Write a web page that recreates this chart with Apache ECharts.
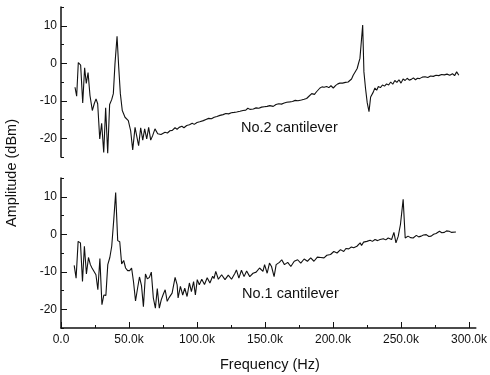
<!DOCTYPE html>
<html>
<head>
<meta charset="utf-8">
<script src="https://cdn.jsdelivr.net/npm/echarts@6/dist/echarts.min.js"></script>
<style>
    html, body {margin: 0; padding: 0; background: #fff;}
    #chart {width: 490px; height: 375px;}
</style>
</head>
<body>
<div id="chart"></div>
<script>
// frequency in kHz, amplitude in dBm
const cantilever2 = [
    [10.2,-6.4],[11.4,-8.8],[12.6,0.2],[14.3,-0.5],[15.8,-10.6],[17.2,-1.2],[18.4,-5.4],[19.7,-2.5],
    [21.1,-8.6],[22.8,-12.6],[24.2,-10.8],[25.5,-9.5],[26.7,-10.8],[28.2,-20.2],[29.6,-16.0],[31.1,-23.8],
    [32.5,-11.9],[34.0,-24.0],[35.4,-11.0],[36.9,-9.7],[38.1,-8.1],[39.3,-0.1],[40.8,7.2],[42.0,-1.0],
    [43.2,-8.1],[44.6,-12.6],[46.6,-14.4],[49.0,-15.3],[50.7,-18.0],[52.2,-23.1],[53.9,-17.1],[55.1,-16.6],
    [56.5,-22.0],[58.0,-17.2],[59.5,-20.5],[60.9,-17.5],[62.4,-20.2],[63.8,-17.1],[65.3,-20.5],[66.7,-19.3],
    [68.4,-17.5],[70.4,-18.8],[72.8,-19.0],[75.7,-18.4],[77.5,-18.6],[79.3,-18.0],[81.0,-17.9],[83.0,-17.2],
    [84.5,-17.6],[86.0,-17.1],[88.0,-16.8],[89.5,-17.2],[91.5,-16.6],[93.5,-16.4],[95.5,-16.0],[97.0,-16.3],
    [99.0,-15.8],[101.0,-15.6],[103.6,-15.3],[105.5,-15.0],[107.5,-14.7],[109.5,-14.8],[111.5,-14.4],[113.5,-14.2],
    [115.7,-13.9],[118.0,-13.7],[120.0,-13.4],[122.0,-13.5],[124.0,-13.2],[126.0,-13.1],[127.9,-13.0],[130.3,-12.8],
    [132.5,-12.6],[134.5,-12.5],[136.0,-12.0],[137.5,-12.3],[140.0,-12.2],[142.0,-11.9],[144.0,-12.0],[146.0,-11.7],
    [148.0,-11.6],[150.0,-11.5],[152.0,-11.3],[154.5,-11.5],[156.5,-11.0],[158.5,-10.8],[160.5,-10.9],[162.5,-10.6],
    [164.3,-10.4],[166.5,-10.3],[168.5,-10.2],[170.5,-9.9],[172.5,-10.0],[175.0,-9.8],[177.0,-9.6],[178.8,-9.4],
    [180.5,-8.8],[182.5,-8.1],[184.5,-8.3],[186.0,-7.6],[187.3,-7.2],[188.5,-6.6],[190.0,-6.3],[191.5,-6.4],
    [193.4,-6.2],[195.0,-6.5],[196.5,-6.0],[198.2,-6.6],[200.0,-5.9],[201.5,-5.5],[203.0,-5.3],[205.0,-5.3],
    [207.0,-5.1],[209.0,-5.0],[210.3,-4.7],[211.5,-4.2],[212.7,-3.2],[214.0,-2.4],[215.6,-1.4],[216.6,0.0],
    [217.6,1.3],[218.8,6.6],[219.6,10.2],[220.5,-2.3],[221.7,-6.8],[222.9,-10.5],[224.2,-12.9],[225.4,-9.0],
    [227.3,-7.7],[228.5,-6.6],[229.8,-7.2],[231.0,-6.2],[232.5,-6.5],[234.0,-5.8],[235.5,-6.1],[237.0,-5.5],
    [238.5,-5.8],[240.0,-5.0],[241.5,-5.6],[243.0,-4.6],[244.5,-5.1],[246.0,-4.4],[247.5,-5.3],[249.0,-4.2],
    [250.5,-4.6],[252.0,-4.0],[253.5,-4.5],[255.0,-4.3],[256.5,-3.9],[258.0,-4.4],[259.5,-4.0],[261.0,-4.1],
    [263.0,-3.7],[265.0,-3.6],[267.0,-3.8],[269.0,-3.4],[271.0,-3.5],[273.0,-3.2],[275.0,-3.3],[277.0,-3.0],
    [279.0,-3.1],[281.0,-2.9],[283.0,-3.2],[285.0,-2.8],[286.5,-3.3],[288.0,-2.3],[289.6,-3.2]
];

const cantilever1 = [
    [9.7,-8.3],[11.1,-11.7],[12.6,-1.9],[14.3,-2.3],[15.8,-12.6],[17.2,-3.2],[18.7,-10.6],[20.2,-6.2],
    [21.6,-8.1],[22.8,-9.0],[24.2,-8.6],[25.7,-10.8],[27.1,-14.8],[28.6,-6.5],[30.1,-18.8],[31.5,-16.2],
    [33.0,-16.3],[34.4,-8.1],[35.9,-6.2],[37.3,-3.2],[38.8,3.9],[40.2,11.1],[41.7,-1.7],[43.2,-2.0],
    [44.6,-7.9],[46.1,-7.0],[47.5,-9.0],[49.0,-9.7],[50.5,-9.7],[51.9,-9.0],[53.3,-12.6],[54.8,-17.8],
    [56.3,-14.4],[57.7,-11.4],[59.2,-13.7],[60.6,-19.3],[62.1,-10.6],[63.5,-11.9],[65.0,-11.5],[66.4,-10.1],
    [67.9,-17.0],[69.4,-19.7],[70.8,-14.5],[72.3,-19.7],[73.7,-17.5],[75.2,-16.0],[76.6,-14.8],[78.1,-17.9],
    [79.5,-16.9],[81.7,-15.7],[83.9,-11.5],[85.4,-13.5],[86.1,-17.0],[87.8,-13.9],[89.5,-16.2],[91.0,-14.4],
    [92.7,-16.6],[94.4,-13.0],[95.9,-15.3],[97.5,-12.6],[98.8,-16.2],[100.2,-12.1],[101.7,-13.5],[103.5,-12.0],
    [105.5,-13.4],[107.5,-11.6],[109.5,-13.0],[111.5,-11.2],[112.5,-11.8],[113.8,-9.9],[115.7,-12.0],[118.1,-10.8],
    [120.6,-12.1],[123.0,-10.9],[125.4,-12.0],[127.9,-10.4],[129.0,-9.5],[130.8,-11.7],[132.7,-9.6],[134.6,-11.3],
    [136.5,-9.8],[138.8,-11.3],[141.2,-10.4],[143.5,-10.1],[146.0,-9.0],[148.5,-9.9],[149.7,-8.1],[151.6,-10.4],
    [153.3,-7.7],[154.8,-8.6],[156.7,-11.3],[158.2,-8.1],[160.6,-7.5],[162.3,-6.8],[164.3,-8.1],[166.7,-7.5],
    [169.0,-8.6],[171.5,-7.2],[174.0,-6.8],[176.3,-7.7],[178.8,-6.6],[181.2,-7.2],[183.6,-6.3],[186.0,-7.2],
    [188.5,-6.1],[191.0,-6.2],[193.4,-6.3],[195.5,-5.6],[198.2,-5.4],[200.6,-4.6],[203.0,-5.0],[205.5,-4.1],
    [207.9,-4.6],[209.5,-3.8],[211.6,-3.9],[213.5,-3.4],[215.2,-3.6],[217.6,-3.2],[220.0,-2.3],[221.0,-3.0],
    [222.5,-2.1],[224.9,-1.9],[227.3,-1.6],[229.0,-1.9],[230.9,-1.4],[232.8,-1.7],[234.6,-1.4],[237.0,-1.2],
    [238.8,-1.5],[240.6,-1.0],[243.1,-1.4],[244.8,0.5],[246.3,-2.3],[248.0,-0.5],[249.6,2.6],[251.6,9.3],
    [253.1,-1.0],[255.2,-0.5],[257.0,-0.9],[258.9,-1.0],[261.3,-0.3],[263.0,-0.7],[264.9,-0.5],[266.5,-0.2],
    [268.6,-0.1],[270.5,-0.6],[272.2,-0.5],[274.0,0.0],[275.8,0.2],[277.0,0.4],[278.3,0.8],[280.0,0.4],
    [281.9,0.5],[283.5,0.9],[285.5,0.8],[287.0,0.5],[288.0,0.4],[290.4,0.6]
];

const xMajorTicks = [0, 50, 100, 150, 200, 250, 300];
const xMinorTicks = [25, 75, 125, 175, 225, 275];
const yMajorTicks = [-20, -10, 0, 10];
const yMinorTicks = [-25, -15, -5, 5, 15];

const font = 'Liberation Sans, Arial, sans-serif';
const ink = '#111';

let myChart = echarts.init(document.getElementById('chart'));

function xAxisFor(gridIndex, visible, minor) {
    return {
        type: 'value',
        gridIndex,
        position: 'bottom',
        min: 0,
        max: 305,
        axisLine: {show: visible && !minor, onZero: false, lineStyle: {color: ink, width: 1.5}},
        axisTick: {
            show: visible,
            inside: true,
            length: minor ? 3 : 6,
            customValues: minor ? xMinorTicks : xMajorTicks,
            lineStyle: {color: ink, width: 1}
        },
        axisLabel: {
            show: visible && !minor,
            customValues: xMajorTicks,
            margin: 6,
            fontSize: 12,
            fontFamily: font,
            color: ink,
            formatter(val) {
                return val === 0 ? '0.0' : val.toFixed(1) + 'k';
            }
        },
        splitLine: {show: false}
    };
}

function yAxisFor(gridIndex, minor) {
    return {
        type: 'value',
        gridIndex,
        position: 'left',
        min: -25,
        max: 15,
        axisLine: {show: !minor, onZero: false, lineStyle: {color: ink, width: 1.5}},
        axisTick: {
            inside: true,
            length: minor ? 3 : 6,
            customValues: minor ? yMinorTicks : yMajorTicks,
            lineStyle: {color: ink, width: 1}
        },
        axisLabel: {
            show: !minor,
            customValues: yMajorTicks,
            margin: 4,
            fontSize: 12,
            fontFamily: font,
            color: ink
        },
        splitLine: {show: false}
    };
}

let lineStyle = {color: ink, width: 1.1};

let option = {
    animation: false,
    backgroundColor: '#fff',
    grid: [
        {left: 61, right: 10, top: 7, height: 150},
        {left: 61, right: 10, top: 178, height: 150}
    ],
    xAxis: [
        xAxisFor(0, false, false),
        xAxisFor(1, true, false),
        xAxisFor(1, true, true)
    ],
    yAxis: [
        yAxisFor(0, false),
        yAxisFor(0, true),
        yAxisFor(1, false),
        yAxisFor(1, true)
    ],
    series: [
        {
            name: 'No.2 cantilever',
            type: 'line',
            xAxisIndex: 0,
            yAxisIndex: 0,
            data: cantilever2,
            showSymbol: false,
            lineStyle
        },
        {
            name: 'No.1 cantilever',
            type: 'line',
            xAxisIndex: 1,
            yAxisIndex: 2,
            data: cantilever1,
            showSymbol: false,
            lineStyle
        }
    ],
    graphic: [
        {
            type: 'text',
            left: 241,
            top: 120,
            style: {text: 'No.2 cantilever', fontSize: 14.5, fontFamily: font, fill: ink}
        },
        {
            type: 'text',
            left: 242,
            top: 286,
            style: {text: 'No.1 cantilever', fontSize: 14.5, fontFamily: font, fill: ink}
        },
        {
            type: 'text',
            x: 220,
            y: 357,
            style: {text: 'Frequency (Hz)', fontSize: 14.5, fontFamily: font, fill: ink}
        },
        {
            type: 'text',
            x: 4,
            y: 227,
            rotation: Math.PI / 2,
            style: {text: 'Amplitude (dBm)', fontSize: 14.5, fontFamily: font, fill: ink}
        }
    ]
};

myChart.setOption(option);
</script>
</body>
</html>
